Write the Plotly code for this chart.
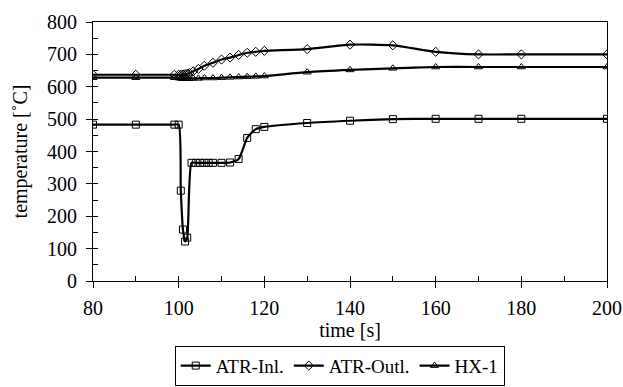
import plotly.graph_objects as go

# ---- data ----
t_inl = [80, 90, 99, 100, 100.5, 101, 101.5, 102, 103, 104, 105, 106, 107, 108, 110, 112,
         114, 116, 118, 120, 130, 140, 150, 160, 170, 180, 200]
atr_inl = [483, 483, 483, 483, 279, 159, 122, 134, 365, 365, 365, 365, 365, 365, 365, 366,
           377, 442, 469, 476, 488, 495, 500, 501, 501, 501, 501]

t_out = [80, 90, 99, 100, 100.5, 101, 101.5, 102, 102.5, 103.4, 104.6, 106, 108, 110, 112,
         114, 116, 118, 120, 130, 140, 150, 160, 170, 180, 200]
atr_out = [637, 637, 637, 637, 637, 638, 639, 640, 642, 648, 655, 665, 674, 684, 690,
           698, 705, 708, 711, 716, 730, 728, 708, 700, 700, 700]

t_hx = [80, 90, 99, 100, 100.5, 101, 101.5, 102, 102.5, 103.4, 104.6, 106, 108, 110, 112,
        114, 116, 118, 120, 130, 140, 150, 160, 170, 180, 200]
hx1 = [628, 628, 628, 627, 626, 625, 625, 625, 625, 626, 626, 627, 627, 628, 629,
       630, 631, 632, 633, 645, 652, 657, 661, 661, 661, 661]

series = [
    ("ATR-Inl.", t_inl, atr_inl, "square-open", 7),
    ("ATR-Outl.", t_out, atr_out, "diamond-open", 7),
    ("HX-1", t_hx, hx1, "triangle-up-open", 7),
]

FONT = "Times New Roman"
FS = 20

fig = go.Figure()
for name, t, v, sym, sz in series:
    fig.add_trace(go.Scatter(
        x=t, y=v, name=name, mode="lines+markers",
        line=dict(color="black", width=2.2, shape="spline", smoothing=0.6),
        marker=dict(symbol=sym, size=sz, color="black", line=dict(width=1, color="black")),
    ))

# helper trace so that overlay axes (inside tick marks) are drawn
fig.add_trace(go.Scatter(x=[None], y=[None], xaxis="x2", yaxis="y2",
                         showlegend=False, hoverinfo="skip"))

fig.update_layout(
    template="none",
    width=623, height=387,
    margin=dict(l=93, r=16, t=22, b=106, autoexpand=False),
    paper_bgcolor="white", plot_bgcolor="white",
    font=dict(family=FONT, size=FS, color="black"),
    showlegend=True,
    legend=dict(
        orientation="h", x=0.48, xanchor="center", y=-0.25, yanchor="top",
        bordercolor="black", borderwidth=1, bgcolor="white",
        font=dict(family=FONT, size=19, color="black"), itemwidth=30, tracegroupgap=0,
    ),
    xaxis=dict(
        range=[80, 200], dtick=20, tick0=80, showgrid=False, zeroline=False,
        showline=True, linecolor="black", linewidth=1, mirror=True,
        ticks="outside", ticklen=6, tickcolor="black", tickwidth=1,
        ticklabelstandoff=3, automargin=False,
        tickfont=dict(family=FONT, size=FS, color="black"),
        title=dict(text="time [s]", standoff=4, font=dict(family=FONT, size=FS, color="black")),
    ),
    yaxis=dict(
        range=[0, 800], dtick=100, showgrid=False, zeroline=False,
        showline=True, linecolor="black", linewidth=1, mirror=True,
        ticks="outside", ticklen=6, tickcolor="black", tickwidth=1,
        ticklabelstandoff=5, automargin=False,
        tickfont=dict(family=FONT, size=FS, color="black"),
        title=dict(text="temperature [˚C]", standoff=14, font=dict(family=FONT, size=FS, color="black")),
    ),
    xaxis2=dict(
        range=[80, 200], dtick=10, tick0=80, overlaying="x", anchor="y2",
        showgrid=False, zeroline=False, showline=False, showticklabels=False,
        ticks="inside", ticklen=5, tickcolor="black", tickwidth=1, side="bottom",
    ),
    yaxis2=dict(
        range=[0, 800], dtick=50, overlaying="y", anchor="x2",
        showgrid=False, zeroline=False, showline=False, showticklabels=False,
        ticks="inside", ticklen=5, tickcolor="black", tickwidth=1, side="left",
    ),
)

fig.write_html("out.html")
